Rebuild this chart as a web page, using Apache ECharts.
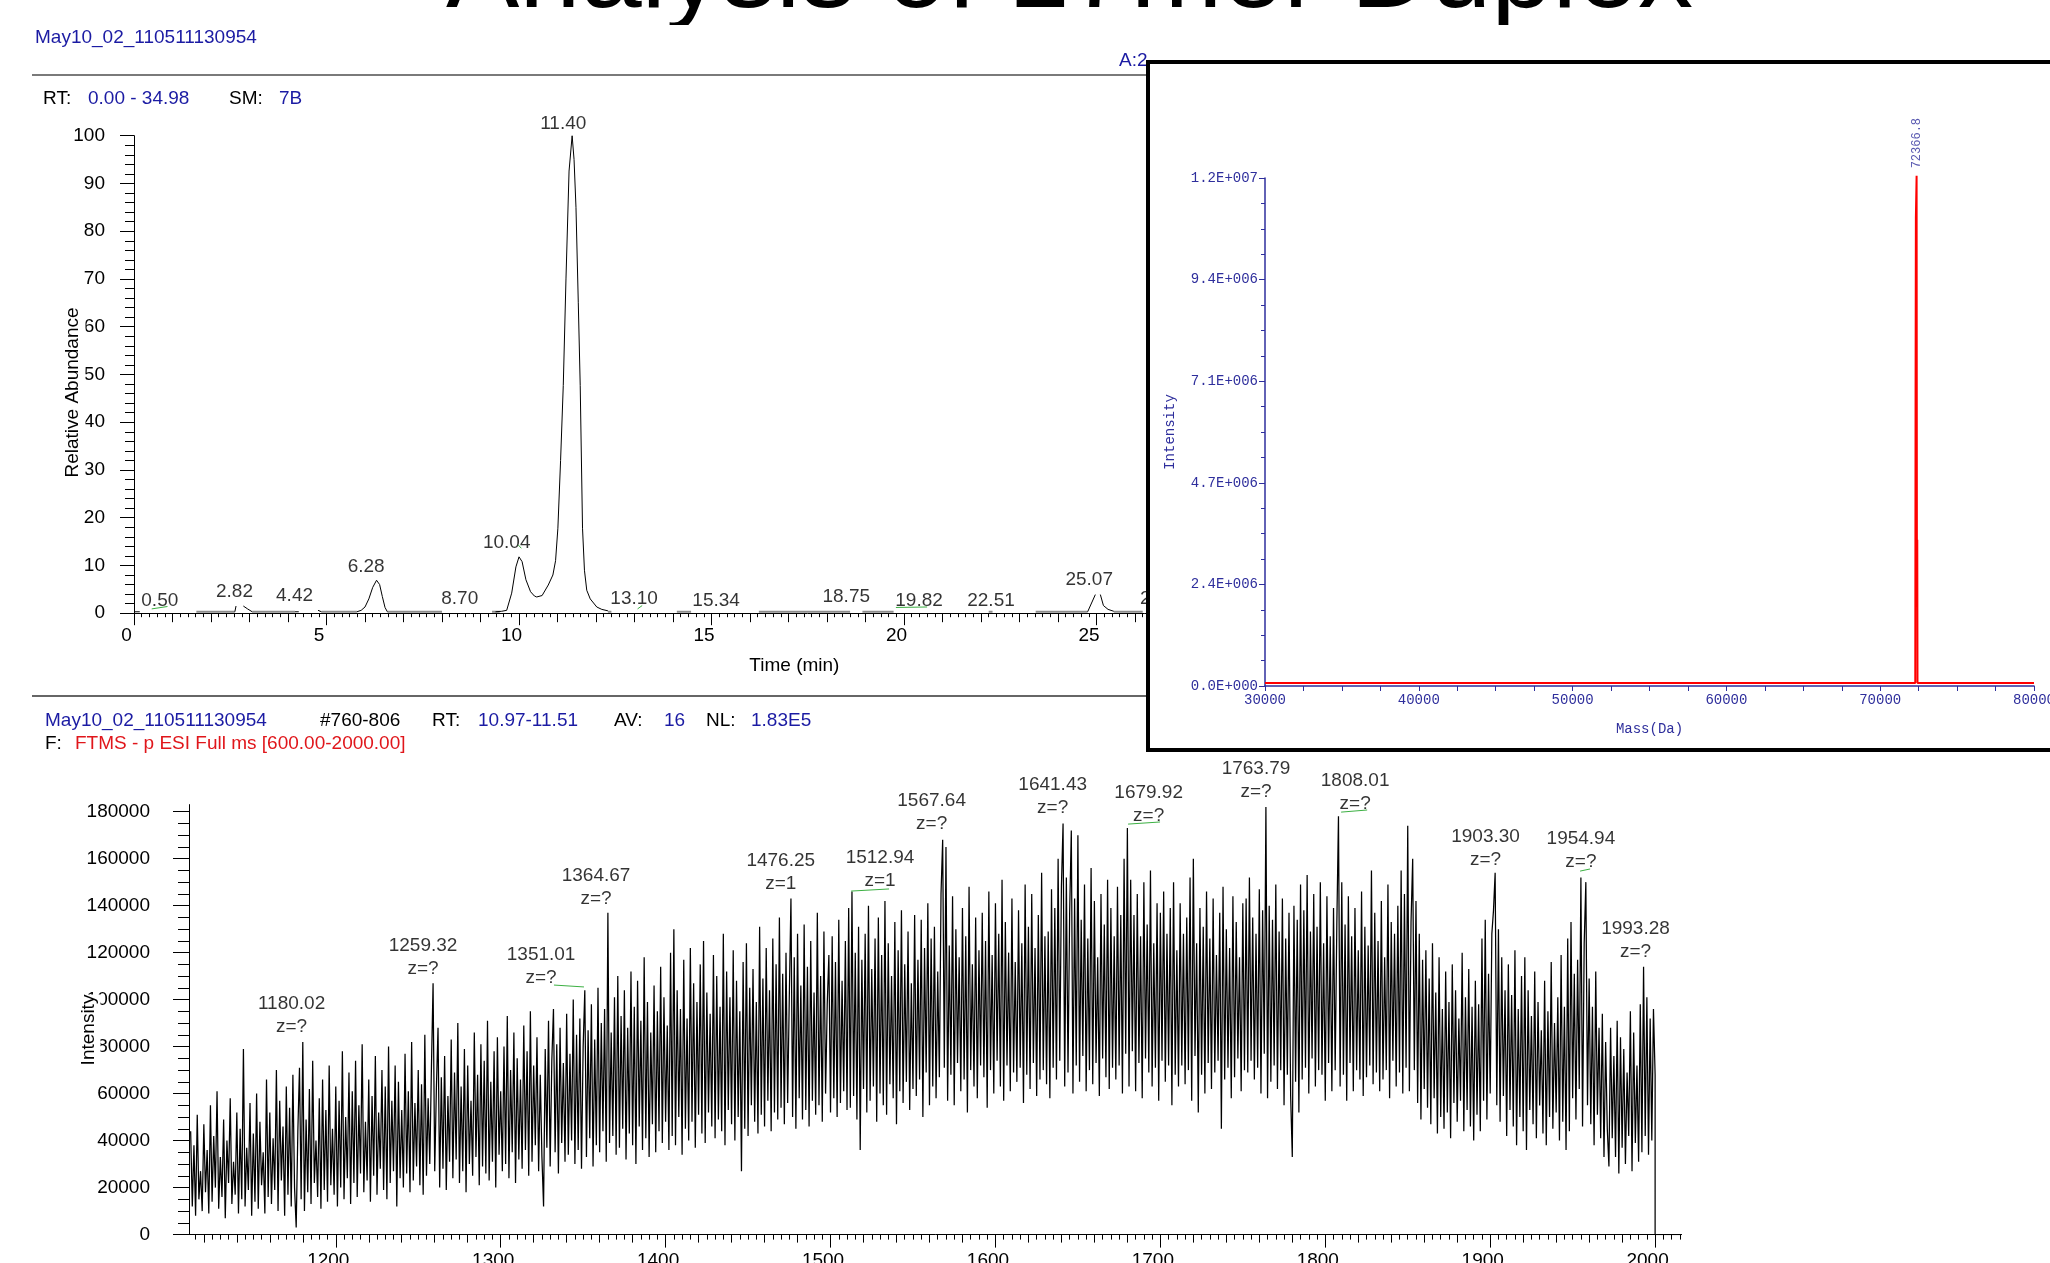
<!DOCTYPE html>
<html>
<head>
<meta charset="utf-8">
<title>Analysis of 17mer Duplex</title>
<script src="https://cdn.jsdelivr.net/npm/echarts@6/dist/echarts.min.js"></script>
<style>
  html, body { margin: 0; padding: 0; background: #fff; }
  #chart { width: 2050px; height: 1263px; }
</style>
</head>
<body>
<div id="chart"></div>
<script>
// ---- chromatogram (relative abundance vs time, min) ----
const ticTrace = [
  [[0, 0.3], [0.15, 0.3]],
  [[2.62, 0.3], [2.65, 1.5]],
  [[2.84, 1.5], [2.95, 0.9], [3.07, 0.3]],
  [[4.18, 0.3], [4.23, 0.6], [4.28, 0.3]],
  [[4.78, 0.6], [4.87, 0.3]],
  [[5.79, 0.3], [5.9, 0.6], [6.0, 1.3], [6.1, 3.0], [6.2, 5.4], [6.3, 6.9], [6.38, 6.0], [6.45, 3.5], [6.52, 1.2], [6.58, 0.3]],
  [[9.39, 0.3], [9.55, 0.4], [9.68, 0.6], [9.81, 4.2], [9.92, 9.7], [10.0, 11.8], [10.08, 10.8], [10.18, 7.0], [10.3, 4.5],
   [10.4, 3.6], [10.46, 3.4], [10.6, 3.7], [10.76, 5.9], [10.88, 8], [10.95, 11], [11.01, 17.8], [11.08, 32], [11.15, 47.7],
   [11.22, 70], [11.3, 92.6], [11.38, 100], [11.43, 95], [11.48, 85], [11.54, 65], [11.59, 47.7], [11.65, 17.8], [11.7, 9],
   [11.76, 4.8], [11.85, 3.0], [12.02, 1.3], [12.15, 0.8], [12.31, 0.5]],
  [[24.77, 0.3], [24.97, 3.9]],
  [[25.1, 3.9], [25.18, 1.6], [25.3, 0.8], [25.45, 0.4]]
];
const ticBaselineRanges = [[1.62, 2.62], [3.07, 4.18], [4.87, 5.79], [6.58, 8.0], [9.3, 9.5], [12.31, 12.4],
  [14.1, 14.47], [16.23, 18.6], [18.92, 19.73], [22.2, 22.3], [23.42, 24.77], [25.45, 26.2]];
const ticBaselineY = 0.3;
const ticMarks = [[[0.46, 0.9], [0.87, 1.4]], [[9.98, 14.3], [10.06, 13.6]], [[13.08, 0.9], [13.2, 1.6]], [[19.79, 1.2], [20.6, 1.3]]];
const ticPeakText = ['0.50', '2.82', '4.42', '6.28', '8.70', '10.04', '11.40', '13.10', '15.34', '18.75', '19.82', '22.51', '25.07', '26.63'];
const ticLabelX = [0.67, 2.61, 4.17, 6.03, 8.46, 9.68, 11.15, 12.99, 15.12, 18.5, 20.39, 22.26, 24.81, 26.75];
const ticLabelY = [2.7, 4.4, 3.6, 9.8, 3.1, 14.7, 102.6, 3.1, 2.7, 3.4, 2.7, 2.7, 7.1, 3.1];
const ticXLabels = [0, 5, 10, 15, 20, 25, 30];
const ticYLabels = [0, 10, 20, 30, 40, 50, 60, 70, 80, 90, 100];

// ---- averaged mass spectrum (intensity vs m/z) ----
const mzStart = 1112, mzStep = 1;
const intensityK = [ // thousands, one value per m/z unit from 1112 to 2000
  44, 12, 38, 8, 51, 15, 27, 10, 47, 18,
  36, 9, 55, 14, 42, 20, 61, 11, 33, 16,
  49, 7, 40, 22, 58, 13, 31, 17, 52, 9,
  45, 15, 79, 12, 37, 19, 56, 8, 43, 14,
  60, 11, 48, 21, 35, 9, 66, 16, 52, 13,
  41, 19, 70, 10, 57, 23, 46, 8, 63, 17,
  54, 12, 68, 20, 3, 44, 71, 15, 82, 10,
  49, 18, 62, 13, 74, 22, 40, 16, 58, 11,
  66, 19, 53, 14, 72, 21, 45, 17, 63, 12,
  57, 20, 78, 15, 50, 24, 69, 13, 61, 22,
  74, 16, 55, 26, 81, 18, 48, 23, 66, 14,
  59, 25, 76, 17, 52, 28, 70, 19, 63, 15,
  80, 22, 57, 27, 72, 12, 65, 24, 53, 20,
  77, 26, 61, 18, 82, 23, 56, 29, 70, 21,
  64, 17, 85, 25, 58, 30, 71, 107, 27, 62,
  88, 20, 67, 28, 76, 19, 59, 31, 83, 24,
  69, 32, 90, 22, 63, 27, 79, 18, 72, 30,
  57, 25, 86, 33, 68, 21, 81, 29, 74, 26,
  91, 23, 65, 31, 78, 20, 84, 34, 61, 27,
  80, 30, 93, 24, 70, 35, 86, 22, 75, 32,
  66, 28, 89, 36, 78, 25, 95, 31, 72, 38,
  84, 27, 68, 33, 12, 79, 37, 91, 29, 74,
  96, 35, 81, 26, 88, 39, 73, 31, 94, 34,
  77, 40, 100, 30, 85, 36, 92, 28, 80, 104,
  33, 87, 41, 98, 29, 83, 38, 105, 35, 90,
  44, 96, 31, 137, 39, 86, 42, 101, 34, 110,
  37, 93, 45, 104, 32, 88, 43, 112, 38, 97,
  30, 108, 46, 91, 36, 118, 41, 99, 33, 86,
  47, 106, 35, 95, 44, 114, 39, 101, 48, 89,
  36, 120, 42, 130, 38, 104, 50, 96, 34, 117,
  45, 92, 40, 122, 48, 107, 37, 99, 51, 115,
  43, 125, 39, 103, 52, 94, 46, 119, 41, 110,
  49, 97, 44, 128, 38, 112, 53, 101, 47, 121,
  40, 108, 50, 95, 27, 116, 45, 124, 42, 105,
  55, 113, 48, 99, 43, 131, 51, 109, 46, 122,
  57, 104, 44, 126, 52, 115, 49, 135, 54, 111,
  47, 120, 56, 101, 143, 50, 118, 45, 128, 58,
  106, 49, 132, 53, 114, 46, 125, 57, 103, 51,
  137, 55, 110, 48, 129, 60, 98, 119, 52, 127,
  58, 116, 50, 134, 56, 108, 61, 125, 53, 139,
  54, 146, 59, 120, 49, 131, 36, 117, 62, 128,
  52, 140, 57, 113, 63, 126, 48, 135, 60, 119,
  55, 142, 51, 124, 64, 110, 58, 133, 47, 121,
  61, 138, 56, 115, 65, 129, 53, 107, 62, 136,
  59, 117, 66, 134, 50, 122, 69, 141, 55, 126,
  63, 131, 58, 112, 67, 145, 168, 71, 165, 57,
  123, 68, 144, 55, 130, 73, 118, 61, 139, 66,
  127, 52, 148, 70, 115, 63, 135, 58, 121, 72,
  137, 67, 125, 54, 146, 70, 119, 60, 141, 74,
  128, 63, 151, 57, 133, 72, 120, 61, 143, 69,
  116, 65, 138, 71, 124, 56, 149, 68, 131, 62,
  145, 73, 122, 59, 136, 66, 154, 70, 127, 64,
  129, 58, 147, 71, 139, 66, 160, 74, 148, 175,
  63, 152, 69, 137, 172, 60, 143, 72, 170, 65,
  134, 76, 149, 61, 126, 70, 156, 64, 142, 73,
  118, 59, 145, 75, 132, 67, 151, 62, 139, 71,
  127, 66, 148, 72, 136, 60, 160, 77, 173, 63,
  151, 78, 136, 61, 145, 73, 127, 58, 150, 75,
  132, 69, 155, 63, 124, 71, 141, 57, 137, 74,
  146, 65, 128, 72, 139, 55, 150, 68, 121, 63,
  141, 72, 128, 64, 135, 70, 152, 57, 160, 76,
  124, 52, 139, 68, 131, 60, 146, 73, 126, 62,
  143, 69, 119, 74, 137, 45, 148, 66, 130, 71,
  122, 58, 144, 67, 133, 75, 118, 61, 141, 70,
  143, 69, 152, 74, 135, 66, 128, 71, 147, 60,
  138, 77, 182, 58, 140, 65, 134, 72, 149, 62,
  129, 70, 143, 55, 126, 68, 137, 59, 33, 140,
  65, 134, 52, 149, 66, 138, 71, 153, 60, 129,
  75, 145, 63, 131, 70, 150, 68, 124, 57, 144,
  73, 127, 61, 139, 70, 132, 178, 63, 150, 68,
  132, 57, 144, 73, 127, 61, 139, 70, 121, 66,
  146, 59, 131, 67, 123, 72, 155, 64, 137, 69,
  125, 61, 142, 66, 118, 70, 149, 58, 133, 74,
  128, 63, 140, 69, 155, 60, 145, 71, 174, 61,
  133, 160, 70, 142, 56, 128, 49, 117, 62, 121,
  54, 109, 47, 124, 58, 103, 43, 118, 50, 96,
  45, 112, 52, 99, 41, 115, 56, 104, 48, 92,
  57, 120, 44, 101, 53, 113, 46, 97, 40, 108,
  51, 98, 44, 126, 57, 134, 49, 111, 60, 128,
  138, 154, 55, 130, 48, 118, 59, 104, 42, 115,
  53, 102, 46, 121, 38, 96, 50, 110, 44, 118,
  36, 104, 53, 93, 47, 112, 41, 99, 55, 87,
  43, 108, 38, 95, 50, 116, 45, 90, 52, 101,
  40, 119, 48, 97, 36, 126, 44, 133, 58, 111,
  49, 117, 62, 152, 46, 124, 150, 55, 109, 47,
  97, 38, 112, 51, 88, 41, 94, 33, 82, 45,
  29, 88, 41, 76, 33, 91, 26, 84, 37, 79,
  30, 69, 42, 95, 27, 86, 39, 72, 31, 98,
  35, 114, 42, 101, 34, 92, 40, 96, 68
];
const spectrumTail = [[2000, 0], [2016, 0]];
const specPeakText = ['1180.02', '1259.32', '1351.01', '1364.67', '1476.25', '1512.94', '1567.64', '1641.43', '1679.92', '1763.79', '1808.01', '1903.30', '1954.94', '1993.28'];
const specChargeText = ['z=?', 'z=?', 'z=?', 'z=?', 'z=1', 'z=1', 'z=?', 'z=?', 'z=?', 'z=?', 'z=?', 'z=?', 'z=?', 'z=?'];
const specLabelMz = [1173.2, 1252.9, 1324.5, 1357.8, 1469.8, 1530.0, 1561.3, 1634.7, 1692.9, 1758.0, 1818.1, 1897.2, 1955.0, 1988.1];
const specLabelInt = [93400, 117900, 114300, 147700, 154400, 155400, 179800, 186400, 183300, 193400, 188200, 164500, 163400, 125400];
const specMarks = [[[1332.3, 106200], [1350.5, 105400]], [[1512.5, 146200], [1535.5, 147100]], [[1680.4, 174700], [1699.8, 175600]],
  [[1809.6, 179800], [1825.4, 180700]], [[1954.5, 154700], [1960.6, 155600]]];
const specXLabels = [1200, 1300, 1400, 1500, 1600, 1700, 1800, 1900, 2000];
const specYLabels = [0, 20000, 40000, 60000, 80000, 100000, 120000, 140000, 160000, 180000];

// ---- deconvoluted mass (inset) ----
const massTrace = [[30000, 70000], [72280, 70000], [72300, 6830000], [72320, 10870000], [72345, 10900000], [72366.8, 11850000],
  [72385, 3480000], [72395, 1840000], [72410, 3400000], [72425, 70000], [80000, 70000]];
const massPeak = [[72366.8, 12610000, '72366.8']];
const massXLabels = [30000, 40000, 50000, 60000, 70000, 80000];
const massYLabels = [0, 2360000, 4720000, 7080000, 9440000, 11800000];

const FONT = '"Liberation Sans", Arial, Helvetica, sans-serif';
const MONO = '"Liberation Mono", "DejaVu Sans Mono", monospace';
const NAVY = '#1b1ba3';
const INSET_BLUE = '#2e2e9c';

function seq(from, to, step) {
  const out = [];
  for (let i = 0; from + i * step <= to + 1e-9; i++) out.push(+(from + i * step).toFixed(6));
  return out;
}
function joinSegments(segs) {
  const out = [];
  segs.forEach((s, i) => {
    if (i) out.push([s[0][0], null]);
    s.forEach(p => out.push(p));
  });
  return out;
}
function tickOnlyX(gridIndex, min, max, values, length, color, z) {
  return {
    gridIndex, type: 'value', min, max, position: 'bottom', z: z || 0,
    axisLine: { show: false, onZero: false },
    axisTick: { show: true, customValues: values, length, lineStyle: { color, width: 1 } },
    axisLabel: { show: false }, splitLine: { show: false }
  };
}
function tickOnlyY(gridIndex, min, max, values, length, color, z) {
  return {
    gridIndex, type: 'value', min, max, position: 'left', z: z || 0,
    axisLine: { show: false, onZero: false },
    axisTick: { show: true, customValues: values, length, lineStyle: { color, width: 1 } },
    axisLabel: { show: false }, splitLine: { show: false }
  };
}
function expLabel(v) {
  const [m, e] = Number(v).toExponential(1).split('e');
  const n = Math.abs(+e);
  return m + 'E' + (+e < 0 ? '-' : '+') + String(n).padStart(3, '0');
}
function txt(text, x, y, color, extra) {
  return Object.assign({
    type: 'text', x, y, z: 10,
    style: { text, font: '19px ' + FONT, fill: color, align: 'left', verticalAlign: 'middle' }
  }, extra || {});
}

const chart = echarts.init(document.getElementById('chart'));

const spectrumData = intensityK.map((k, i) => [mzStart + i * mzStep, k * 1000]).concat(spectrumTail);
const ticBaseline = ticBaselineRanges.map(r => [[r[0], ticBaselineY], [r[1], ticBaselineY]]);

const option = {
  animation: false,
  backgroundColor: '#fff',
  textStyle: { fontFamily: FONT },
  grid: [
    { left: 134, top: 135.7, width: 34.98 * 38.5, height: 477.5, outerBoundsMode: 'none' },
    { left: 189, top: 804.6, width: 1492.5, height: 430, outerBoundsMode: 'none' },
    { left: 1265, top: 178, width: 769, height: 508, outerBoundsMode: 'none' }
  ],
  xAxis: [
    {
      gridIndex: 0, type: 'value', min: 0, max: 34.98, position: 'bottom',
      axisLine: { onZero: false, lineStyle: { color: '#000', width: 1 } },
      axisTick: { customValues: ticXLabels, length: 12, lineStyle: { color: '#000' } },
      axisLabel: { customValues: ticXLabels, margin: 13, fontSize: 19, color: '#000', fontFamily: FONT, padding: [0, 15, 0, 0] },
      splitLine: { show: false },
      name: 'Time (min)', nameLocation: 'middle', nameGap: 43,
      nameTextStyle: { fontSize: 19, color: '#000', fontFamily: FONT, padding: [0, 26, 0, 0] }
    },
    tickOnlyX(0, 0, 34.98, seq(1, 34, 1).filter(v => v % 5 !== 0), 9, '#000'),
    tickOnlyX(0, 0, 34.98, seq(0.2, 34.8, 0.2).filter(v => Math.abs(v - Math.round(v)) > 1e-6), 4, '#000'),
    {
      gridIndex: 1, type: 'value', min: 1111, max: 2016, position: 'bottom',
      axisLine: { onZero: false, lineStyle: { color: '#000', width: 1 } },
      axisTick: { customValues: specXLabels, length: 13, lineStyle: { color: '#000' } },
      axisLabel: { customValues: specXLabels, margin: 17, fontSize: 19, color: '#000', fontFamily: FONT,
        padding: [0, 15, 0, 0], formatter: v => String(v) },
      splitLine: { show: false }
    },
    tickOnlyX(1, 1111, 2016, seq(1120, 2000, 20).filter(v => v % 100 !== 0), 8, '#000'),
    tickOnlyX(1, 1111, 2016, seq(1115, 2015, 5).filter(v => v % 20 !== 0), 5, '#000'),
    {
      gridIndex: 2, type: 'value', min: 30000, max: 80000, position: 'bottom', z: 60,
      axisLine: { onZero: false, lineStyle: { color: INSET_BLUE, width: 1.5 } },
      axisTick: { customValues: seq(30000, 80000, 2500), length: 5, lineStyle: { color: INSET_BLUE } },
      axisLabel: { customValues: massXLabels, margin: 7, fontSize: 14, color: INSET_BLUE, fontFamily: MONO, formatter: v => String(v) },
      splitLine: { show: false },
      name: 'Mass(Da)', nameLocation: 'middle', nameGap: 36,
      nameTextStyle: { fontSize: 14, color: INSET_BLUE, fontFamily: MONO }
    }
  ],
  yAxis: [
    {
      gridIndex: 0, type: 'value', min: 0, max: 100, position: 'left',
      axisLine: { show: true, onZero: false, lineStyle: { color: '#000', width: 1 } },
      axisTick: { show: true, customValues: ticYLabels, length: 14, lineStyle: { color: '#000' } },
      axisLabel: { customValues: ticYLabels, margin: 29, fontSize: 19, color: '#000', fontFamily: FONT },
      splitLine: { show: false }
    },
    tickOnlyY(0, 0, 100, seq(2, 98, 2).filter(v => v % 10 !== 0), 9, '#000'),
    {
      gridIndex: 1, type: 'value', min: 0, max: 183000, position: 'left',
      axisLine: { show: true, onZero: false, lineStyle: { color: '#000', width: 1 } },
      axisTick: { show: true, customValues: specYLabels, length: 16, lineStyle: { color: '#000' } },
      axisLabel: { customValues: specYLabels, margin: 39, fontSize: 19, color: '#000', fontFamily: FONT, formatter: v => String(v) },
      splitLine: { show: false }
    },
    tickOnlyY(1, 0, 183000, seq(5000, 180000, 5000).filter(v => v % 20000 !== 0), 11, '#000'),
    {
      gridIndex: 2, type: 'value', min: 0, max: 11800000, position: 'left', z: 60,
      axisLine: { show: true, onZero: false, lineStyle: { color: INSET_BLUE, width: 1.5 } },
      axisTick: { show: true, customValues: massYLabels, length: 6, lineStyle: { color: INSET_BLUE } },
      axisLabel: { customValues: massYLabels, margin: 7, fontSize: 14, color: INSET_BLUE, fontFamily: MONO, formatter: expLabel },
      splitLine: { show: false },
      name: 'Intensity', nameLocation: 'middle', nameGap: 88, nameRotate: 90,
      nameTextStyle: { fontSize: 14, color: INSET_BLUE, fontFamily: MONO }
    },
    tickOnlyY(2, 0, 11800000, seq(590000, 11210000, 590000).filter((v, i) => (i + 1) % 4 !== 0), 4, INSET_BLUE, 60)
  ],
  series: [
    {
      name: 'baseline', type: 'line', xAxisIndex: 0, yAxisIndex: 0, data: joinSegments(ticBaseline),
      symbol: 'none', silent: true, lineStyle: { color: '#8c8c8c', width: 2 }
    },
    {
      name: 'TIC', type: 'line', xAxisIndex: 0, yAxisIndex: 0, data: joinSegments(ticTrace),
      symbol: 'none', silent: true, lineStyle: { color: '#000', width: 1 }
    },
    {
      name: 'peak marks', type: 'line', xAxisIndex: 0, yAxisIndex: 0, data: joinSegments(ticMarks),
      symbol: 'none', silent: true, lineStyle: { color: '#3cb043', width: 1 }
    },
    {
      name: 'TIC labels', type: 'scatter', xAxisIndex: 0, yAxisIndex: 0, clip: false, symbolSize: 1,
      itemStyle: { color: 'transparent' }, silent: true,
      data: ticLabelX.map((x, i) => [x, ticLabelY[i], ticPeakText[i]]),
      label: { show: true, position: 'inside', formatter: p => p.data[2], fontSize: 19, color: '#000', fontFamily: FONT }
    },
    {
      name: 'spectrum', type: 'line', xAxisIndex: 3, yAxisIndex: 2, data: spectrumData,
      symbol: 'none', silent: true, lineStyle: { color: '#000', width: 1.25 }
    },
    {
      name: 'spectrum marks', type: 'line', xAxisIndex: 3, yAxisIndex: 2, data: joinSegments(specMarks), clip: false,
      symbol: 'none', silent: true, lineStyle: { color: '#3cb043', width: 1 }
    },
    {
      name: 'spectrum labels', type: 'scatter', xAxisIndex: 3, yAxisIndex: 2, clip: false, symbolSize: 1,
      itemStyle: { color: 'transparent' }, silent: true,
      data: specLabelMz.map((x, i) => [x, specLabelInt[i], specPeakText[i], specChargeText[i]]),
      label: { show: true, position: 'inside', formatter: p => p.data[2] + '\n' + p.data[3],
        fontSize: 19, lineHeight: 23, color: '#000', fontFamily: FONT, align: 'center' }
    },
    {
      name: 'deconvoluted', type: 'line', xAxisIndex: 6, yAxisIndex: 4, data: massTrace, z: 61, clip: false,
      symbol: 'none', silent: true, lineStyle: { color: '#ff0000', width: 2 }
    },
    {
      name: 'mass label', type: 'scatter', xAxisIndex: 6, yAxisIndex: 4, data: massPeak, z: 62, clip: false,
      symbolSize: 1, itemStyle: { color: 'transparent' }, silent: true,
      label: { show: true, position: 'inside', rotate: 90, formatter: p => p.data[2], fontSize: 12, color: INSET_BLUE, fontFamily: MONO }
    }
  ],
  graphic: { elements: [
    { type: 'text', x: 1069.5, y: -23, z: 1,
      style: { text: 'Analysis of 17mer Duplex', font: '110px ' + FONT, fill: '#000', align: 'center', verticalAlign: 'middle' } },
    { type: 'rect', z: 2, shape: { x: 400, y: 25, width: 1400, height: 26 }, style: { fill: '#fff' } },
    { type: 'line', z: 1, shape: { x1: 32, y1: 75, x2: 1148, y2: 75 }, style: { stroke: '#7a7a7a', lineWidth: 2 } },
    { type: 'line', z: 1, shape: { x1: 32, y1: 696, x2: 1148, y2: 696 }, style: { stroke: '#333', lineWidth: 1.5 } },
    txt('May10_02_110511130954', 35, 38, NAVY),
    txt('RT:', 43, 99, '#000'),
    txt('0.00 - 34.98', 88, 99, NAVY),
    txt('SM:', 229, 99, '#000'),
    txt('7B', 279, 99, NAVY),
    txt('A:2', 1119, 61, NAVY, { z: 5 }),
    txt('May10_02_110511130954', 45, 721, NAVY),
    txt('#760-806', 320, 721, '#000'),
    txt('RT:', 432, 721, '#000'),
    txt('10.97-11.51', 478, 721, NAVY),
    txt('AV:', 614, 721, '#000'),
    txt('16', 664, 721, NAVY),
    txt('NL:', 706, 721, '#000'),
    txt('1.83E5', 751, 721, NAVY),
    txt('F:', 45, 744, '#000'),
    txt('FTMS - p ESI Full ms [600.00-2000.00]', 75, 744, '#e0161b'),
    { type: 'text', x: 73, y: 392.5, rotation: Math.PI / 2, z: 20,
      style: { text: 'Relative Abundance', font: '19px ' + FONT, fill: '#000', align: 'center', verticalAlign: 'middle',
        backgroundColor: '#fff', padding: [0, 0, 6, 0] } },
    { type: 'text', x: 89, y: 1030, rotation: Math.PI / 2, z: 20,
      style: { text: 'Intensity', font: '19px ' + FONT, fill: '#000', align: 'center', verticalAlign: 'middle',
        backgroundColor: '#fff', padding: [0, 0, 4, 0] } },
    { type: 'rect', z: 50, shape: { x: 1148, y: 62, width: 1000, height: 688 },
      style: { fill: '#fff', stroke: '#000', lineWidth: 4 } }
  ] }
};
chart.setOption(option);
</script>
</body>
</html>
